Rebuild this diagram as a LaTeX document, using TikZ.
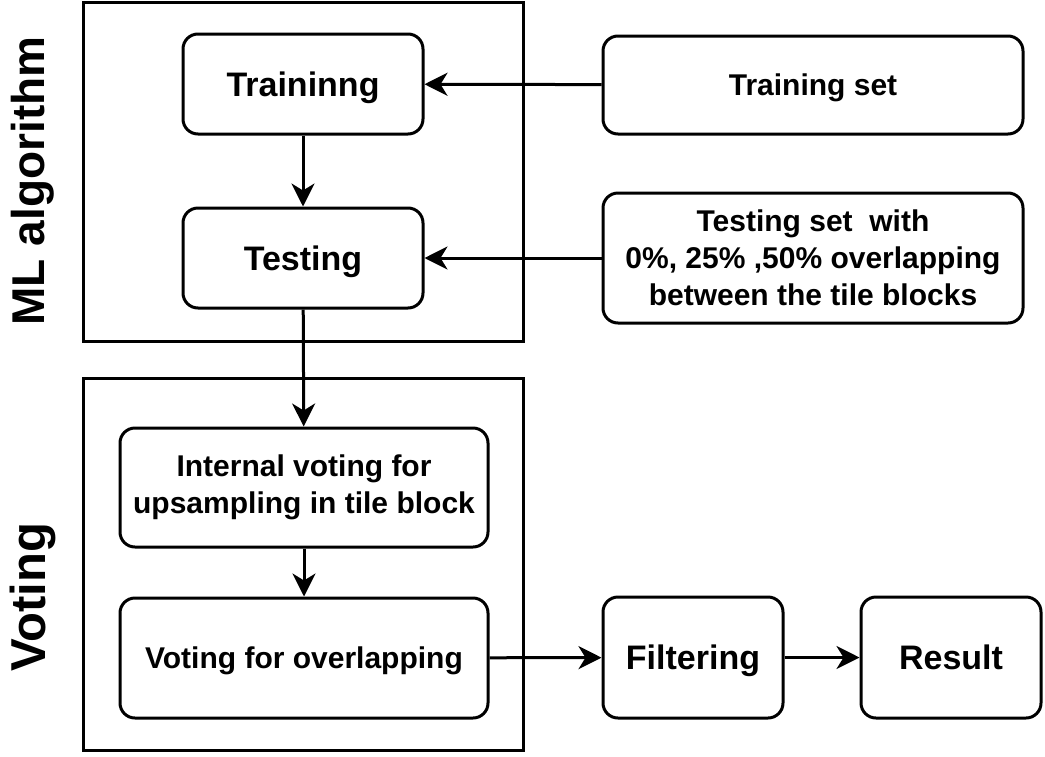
\documentclass[tikz,border=0pt]{standalone}
\usepackage{fontspec}
\setmainfont{Liberation Sans}
\usetikzlibrary{arrows.meta,positioning}

\begin{document}
\begin{tikzpicture}[x=1pt,y=-1pt,line width=3pt,
                    >={Stealth[length=23pt,width=23pt,inset=7pt]},
                    step node/.style={draw,rounded corners=15pt,align=center,inner sep=0pt,
                      font=\bfseries\fontsize{34}{37}\selectfont,text height=24.5pt,text depth=0pt},
                    data node/.style={step node,font=\bfseries\fontsize{30}{37}\selectfont,text height=21.5pt},
                    multi line/.style={text height=,text depth=},
                    side label/.style={rotate=90,font=\bfseries\fontsize{46}{50}\selectfont}]

  \useasboundingbox (0,0) rectangle (1045,756);

  % frames
  \draw (83,2) rectangle (523,341);
  \draw (83,378) rectangle (523,750);
  \node[side label] (ml) at (33,181) {ML algorithm};
  \node[side label,font=\bfseries\fontsize{49}{52}\selectfont] (vote) at (33,597) {Voting};

  \node[step node,minimum width=240pt,minimum height=100pt] (train) at (303,84) {Traininng};
  \node[step node,minimum width=240pt,minimum height=100pt] (test) at (303,258) {Testing};
  \node[data node,minimum width=420pt,minimum height=98pt] (trainset) at (813,85) {Training set};
  \node[data node,multi line,minimum width=420pt,minimum height=130pt] (testset) at (813,258)
    {Testing set\ \ with\\0\%, 25\% ,50\% overlapping\\between the tile blocks};
  \node[data node,multi line,minimum width=368pt,minimum height=119pt] (inner) at (304,487.5)
    {Internal voting for\\upsampling in tile block};
  \node[data node,minimum width=368pt,minimum height=120pt] (overlap) at (304,658) {Voting for overlapping};
  \node[step node,minimum width=180pt,minimum height=121pt] (filter) at (693,657.5) {Filtering};
  \node[step node,minimum width=180pt,minimum height=121pt] (result) at (951,657.5) {Result};

  \draw[->] (trainset) -- (train);
  \draw[->] (testset) -- (test);
  \draw[->] (train) -- (test);
  \draw[->] (test) -- (inner);
  \draw[->] (inner) -- (overlap);
  \draw[->] (overlap) -- (filter);
  \draw[->] (filter) -- (result);
\end{tikzpicture}
\end{document}
